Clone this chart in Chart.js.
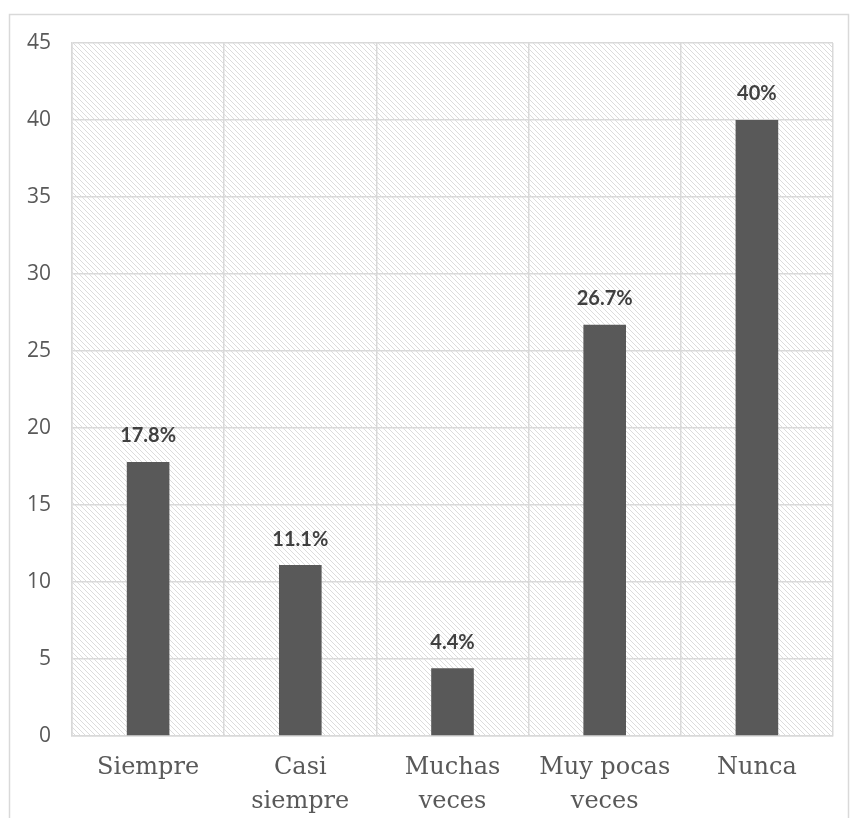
<!DOCTYPE html>
<html>
<head>
<meta charset="utf-8">
<script src="https://cdn.jsdelivr.net/npm/chart.js@4"></script>
<style>
  html, body { margin: 0; padding: 0; background: #fff; }
  #wrap { width: 850px; height: 818px; }
</style>
</head>
<body>
<div id="wrap"><canvas id="chart" width="850" height="818"></canvas></div>
<script>
const categories = [['Siempre'], ['Casi', 'siempre'], ['Muchas', 'veces'], ['Muy pocas', 'veces'], ['Nunca']];
const values = [17.8, 11.1, 4.4, 26.7, 40];
const valueLabels = ['17.8%', '11.1%', '4.4%', '26.7%', '40%'];
const yTicks = [0, 5, 10, 15, 20, 25, 30, 35, 40, 45];

// light diagonal hatch for the plot background
function makeHatch() {
    const c = document.createElement('canvas');
    c.width = 5; c.height = 5;
    const g = c.getContext('2d');
    g.fillStyle = '#ffffff';
    g.fillRect(0, 0, 5, 5);
    g.strokeStyle = '#dcdcdc';
    g.lineWidth = 1;
    g.beginPath();
    g.moveTo(-1, -1); g.lineTo(6, 6);
    g.moveTo(-4, 1); g.lineTo(4, 9);
    g.moveTo(1, -4); g.lineTo(9, 4);
    g.stroke();
    return c;
}

const frameAndHatch = {
    id: 'frameAndHatch',
    beforeDraw(chart) {
        const ctx = chart.ctx;
        const a = chart.chartArea;
        ctx.save();
        ctx.strokeStyle = '#d9d9d9';
        ctx.lineWidth = 1.5;
        ctx.beginPath();
        ctx.moveTo(9.5, 818);
        ctx.lineTo(9.5, 14.5);
        ctx.lineTo(848.5, 14.5);
        ctx.lineTo(848.5, 818);
        ctx.stroke();
        ctx.fillStyle = ctx.createPattern(makeHatch(), 'repeat');
        ctx.fillRect(a.left, a.top, a.right - a.left, a.bottom - a.top);
        ctx.restore();
    }
};

const barLabels = {
    id: 'barLabels',
    afterDatasetsDraw(chart) {
        const ctx = chart.ctx;
        const meta = chart.getDatasetMeta(0);
        ctx.save();
        ctx.font = 'bold 20px Lato, "Open Sans", sans-serif';
        ctx.fillStyle = '#404040';
        ctx.textAlign = 'center';
        ctx.textBaseline = 'bottom';
        meta.data.forEach((bar, i) => {
            ctx.fillText(valueLabels[i], bar.x, bar.y - 16);
        });
        ctx.restore();
    }
};

new Chart(document.getElementById('chart'), {
    type: 'bar',
    data: {
        labels: categories,
        datasets: [{
            data: values,
            backgroundColor: '#595959',
            barPercentage: 0.28,
            categoryPercentage: 1
        }]
    },
    options: {
        responsive: false,
        animation: false,
        layout: { padding: { top: 43, right: 17, left: 0, bottom: 0 } },
        plugins: { legend: { display: false }, tooltip: { enabled: false } },
        scales: {
            x: {
                grid: { color: '#d9d9d9', lineWidth: 1.5, drawTicks: false, offset: true },
                border: { color: '#d9d9d9', width: 1.5 },
                ticks: {
                    color: '#595959',
                    font: { family: '"DejaVu Serif", serif', size: 24, lineHeight: 1.45 },
                    padding: 14,
                    maxRotation: 0,
                    autoSkip: false
                },
                afterFit(scale) { scale.height = 82; }
            },
            y: {
                min: 0,
                max: 45,
                afterBuildTicks(scale) { scale.ticks = yTicks.map(v => ({ value: v })); },
                grid: { color: '#d9d9d9', lineWidth: 1.5, drawTicks: false },
                border: { color: '#d9d9d9', width: 1.5 },
                ticks: {
                    color: '#595959',
                    font: { family: '"Open Sans", sans-serif', size: 21 },
                    padding: 21
                },
                afterFit(scale) { scale.width = 72; }
            }
        }
    },
    plugins: [frameAndHatch, barLabels]
});
</script>
</body>
</html>
